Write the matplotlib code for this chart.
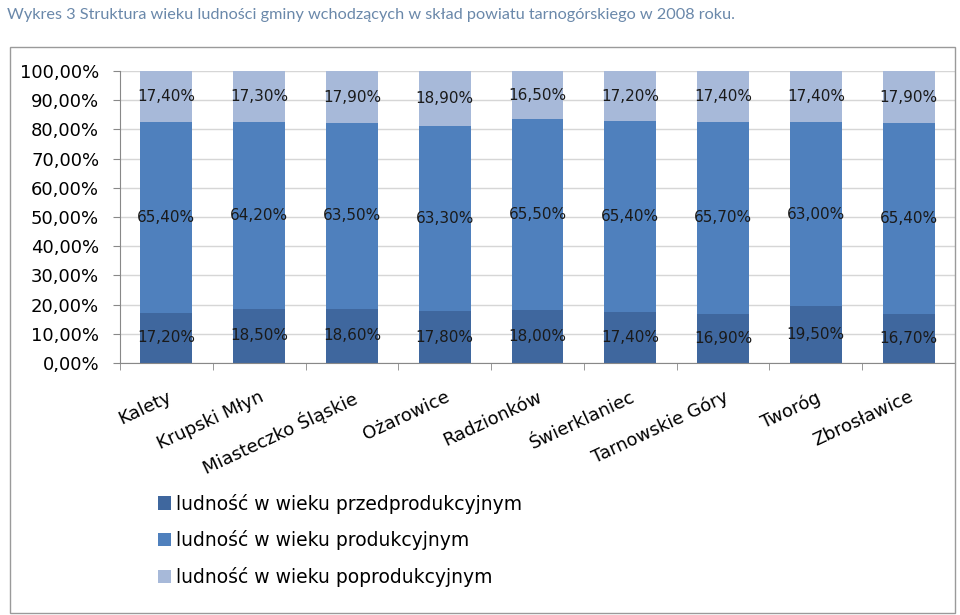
import matplotlib

matplotlib.use('Agg')
import matplotlib.pyplot as plt
from matplotlib.patches import Rectangle

# data
gminy = ['Kalety', 'Krupski Młyn', 'Miasteczko Śląskie', 'Ożarowice', 'Radzionków',
         'Świerklaniec', 'Tarnowskie Góry', 'Tworóg', 'Zbrosławice']
przedprod = [17.2, 18.5, 18.6, 17.8, 18.0, 17.4, 16.9, 19.5, 16.7]
prod = [65.4, 64.2, 63.5, 63.3, 65.5, 65.4, 65.7, 63.0, 65.4]
poprod = [17.4, 17.3, 17.9, 18.9, 16.5, 17.2, 17.4, 17.4, 17.9]
series_names = ['ludność w wieku przedprodukcyjnym',
                'ludność w wieku produkcyjnym',
                'ludność w wieku poprodukcyjnym']
colors = ['#3f679e', '#4f80bd', '#a7b9d9']


def pl_pct(v):
    return "{0:.2f}%".format(v).replace('.', ',')


fig = plt.figure(figsize=(9.6, 6.15), dpi=100)
plt.rcParams['font.family'] = ['DejaVu Sans']

# outer frame of the chart area
fig.patches.append(Rectangle((10 / 960, 2 / 615), 945 / 960, 566 / 615,
                             transform=fig.transFigure, fill=False,
                             edgecolor='#9a9a9a', linewidth=1))
fig.text(7 / 960, 1 - 15 / 615, 'Wykres 3 Struktura wieku ludności gminy wchodzących w skład powiatu tarnogórskiego w 2008 roku.',
         fontsize=11.7, color='#6a88aa', va='center', ha='left', family=['Lato', 'DejaVu Sans'])

ax = fig.add_axes([120 / 960, 1 - 363 / 615, 835 / 960, 292 / 615])
x = list(range(len(gminy)))
width = 0.56

bottoms = [0] * len(gminy)
bars = []
for vals, col, name in zip([przedprod, prod, poprod], colors, series_names):
    b = ax.bar(x, vals, width, bottom=bottoms, color=col, label=name, zorder=2)
    bars.append(b)
    for xi, v, bt in zip(x, vals, bottoms):
        ax.text(xi, bt + v / 2, pl_pct(v), ha='center', va='center',
                fontsize=11, color='#1a1a1a', zorder=3)
    bottoms = [bt + v for bt, v in zip(bottoms, vals)]

ax.set_xlim(-0.5, len(gminy) - 0.5)
ax.set_ylim(0, 100)
ax.set_yticks(range(0, 101, 10))
ax.set_yticklabels([pl_pct(t) for t in range(0, 101, 10)], fontsize=13)
ax.yaxis.grid(True, color='#d6d6d6', linewidth=1, zorder=0)
ax.set_axisbelow(True)

ax.set_xticks(x)
ax.set_xticklabels(gminy, rotation=25, ha='right', rotation_mode='anchor', fontsize=13)
ax.tick_params(axis='x', which='major', length=0, pad=18)
ax.set_xticks([i + 0.5 for i in range(-1, len(gminy))], minor=True)
ax.tick_params(axis='x', which='minor', length=5, color='#888888')
ax.tick_params(axis='y', length=5, color='#888888', pad=10)

for side in ['top', 'right']:
    ax.spines[side].set_visible(False)
for side in ['left', 'bottom']:
    ax.spines[side].set_color('#888888')

fig.legend(handles=bars, labels=series_names, loc='upper left',
           bbox_to_anchor=(150 / 960, 1 - 486 / 615), frameon=False,
           fontsize=13.5, handlelength=0.7, handleheight=0.7,
           handletextpad=0.3, labelspacing=0.9, borderaxespad=0)

fig.savefig('out.png', dpi=100)
